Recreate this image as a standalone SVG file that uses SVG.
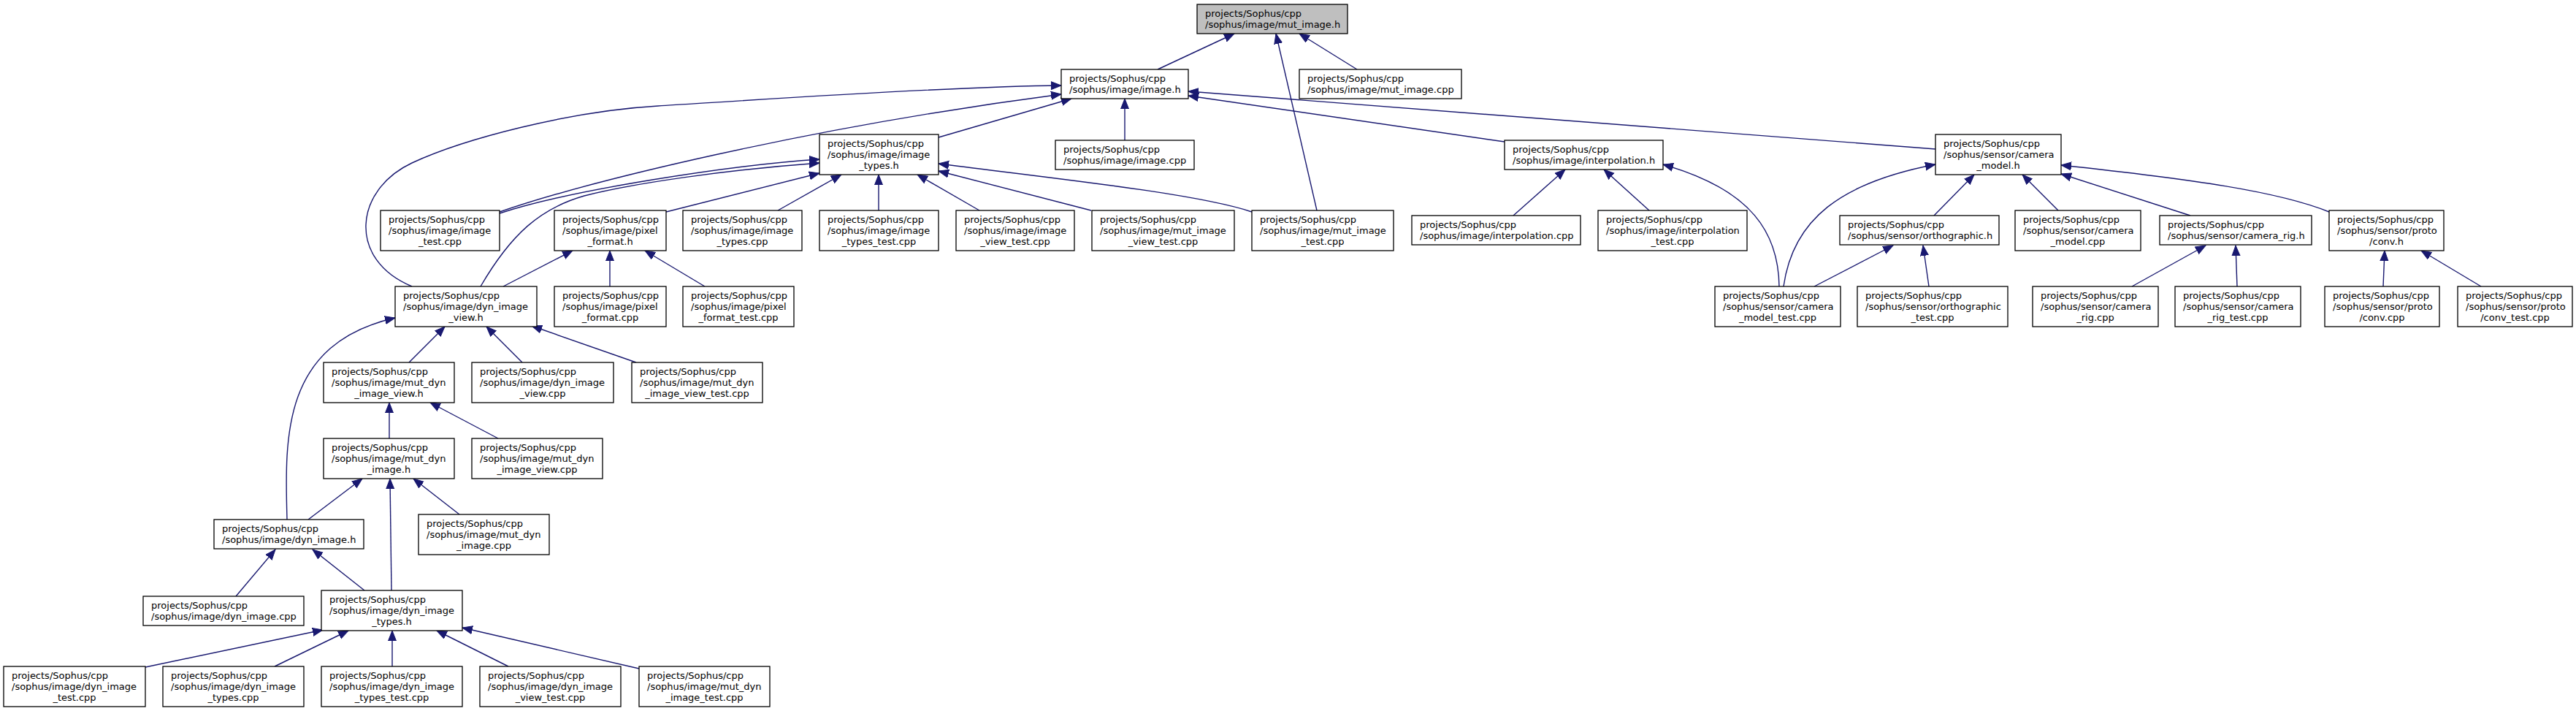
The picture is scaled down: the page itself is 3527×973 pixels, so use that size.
<svg xmlns="http://www.w3.org/2000/svg" width="3527" height="973" viewBox="0 0 3527 973">
<defs>
<marker id="ah" markerUnits="userSpaceOnUse" markerWidth="16" markerHeight="13" refX="14" refY="6" orient="auto" viewBox="0 0 16 13">
<path d="M0,0.5 L14,6 L0,11.5 z" fill="#191970" stroke="#191970" stroke-width="1"/>
</marker>
</defs>
<style>
.node rect{fill:#fff;stroke:#000;stroke-width:1.3}
.node.hl rect{fill:#bfbfbf}
text{font-family:"DejaVu Sans",sans-serif;font-size:13px;fill:#000}
text.c{text-anchor:middle}
#edges path{fill:none;stroke:#191970;stroke-width:1.4;marker-end:url(#ah)}
</style>
<rect width="3527" height="973" fill="#fff"/>
<g id="edges">
<path d="M1585,95 L1690,46"/>
<path d="M1858,95 L1779,46"/>
<path d="M1803,288 L1747,46"/>
<path d="M1285,188 L1467,135"/>
<path d="M1540,192 L1540,135"/>
<path d="M2060,194 L1627,131"/>
<path d="M2650,204 L1627,125"/>
<path d="M684,290 C800,250 1100,175 1453,129"/>
<path d="M684,292 C780,260 1000,226 1122,218"/>
<path d="M658,392 C700,320 740,285 800,268 C870,250 1000,232 1122,223"/>
<path d="M564,392 C475,355 485,260 564,223 C635,190 780,152 901,145 C1000,139 1300,118 1453,117"/>
<path d="M912,290 L1122,237"/>
<path d="M1065,288 L1152,239"/>
<path d="M1203,288 L1203,239"/>
<path d="M1341,288 L1256,239"/>
<path d="M1494,288 L1285,234"/>
<path d="M1714,290 C1640,265 1450,245 1285,224"/>
<path d="M835,392 L835,343"/>
<path d="M965,392 L883,343"/>
<path d="M689,392 L784,343"/>
<path d="M560,496 L609,447"/>
<path d="M715,496 L666,447"/>
<path d="M871,496 L728,446"/>
<path d="M393,711 C390,600 385,470 541,435"/>
<path d="M533,600 L533,551"/>
<path d="M682,600 L589,551"/>
<path d="M422,711 L496,655"/>
<path d="M536,808 L534,655"/>
<path d="M629,704 L566,655"/>
<path d="M323,816 L377,752"/>
<path d="M499,808 L428,752"/>
<path d="M199,913 L442,862"/>
<path d="M376,912 L477,863"/>
<path d="M537,912 L537,863"/>
<path d="M696,912 L598,863"/>
<path d="M875,915 L633,859"/>
<path d="M2072,295 L2143,232"/>
<path d="M2258,288 L2196,232"/>
<path d="M2436,392 C2435,320 2400,260 2277,225"/>
<path d="M2442,392 C2455,300 2520,250 2650,225"/>
<path d="M2648,295 L2703,239"/>
<path d="M2641,392 L2633,336"/>
<path d="M2484,392 L2592,336"/>
<path d="M2818,288 L2769,239"/>
<path d="M2999,295 L2822,238"/>
<path d="M3189,290 C3120,262 3000,245 2822,226"/>
<path d="M2919,392 L3020,336"/>
<path d="M3063,392 L3061,336"/>
<path d="M3263,392 L3265,343"/>
<path d="M3397,392 L3315,343"/>
</g>
<g id="n_mut_image_h" class="node hl"><rect x="1639" y="6" width="206" height="40"/><text x="1650" y="22.5">projects/Sophus/cpp</text><text x="1650" y="37.5">/sophus/image/mut_image.h</text></g>
<g id="n_image_h" class="node"><rect x="1453" y="95" width="174" height="40"/><text x="1464" y="111.5">projects/Sophus/cpp</text><text x="1464" y="126.5">/sophus/image/image.h</text></g>
<g id="n_mut_image_cpp" class="node"><rect x="1779" y="95" width="222" height="40"/><text x="1790" y="111.5">projects/Sophus/cpp</text><text x="1790" y="126.5">/sophus/image/mut_image.cpp</text></g>
<g id="n_image_types_h" class="node"><rect x="1122" y="184" width="163" height="55"/><text x="1133" y="200.5">projects/Sophus/cpp</text><text x="1133" y="215.5">/sophus/image/image</text><text class="c" x="1203.5" y="230.5">_types.h</text></g>
<g id="n_image_cpp" class="node"><rect x="1445" y="192" width="190" height="40"/><text x="1456" y="208.5">projects/Sophus/cpp</text><text x="1456" y="223.5">/sophus/image/image.cpp</text></g>
<g id="n_interpolation_h" class="node"><rect x="2060" y="192" width="217" height="40"/><text x="2071" y="208.5">projects/Sophus/cpp</text><text x="2071" y="223.5">/sophus/image/interpolation.h</text></g>
<g id="n_camera_model_h" class="node"><rect x="2650" y="184" width="172" height="55"/><text x="2661" y="200.5">projects/Sophus/cpp</text><text x="2661" y="215.5">/sophus/sensor/camera</text><text class="c" x="2736" y="230.5">_model.h</text></g>
<g id="n_image_test_cpp" class="node"><rect x="521" y="288" width="163" height="55"/><text x="532" y="304.5">projects/Sophus/cpp</text><text x="532" y="319.5">/sophus/image/image</text><text class="c" x="602.5" y="334.5">_test.cpp</text></g>
<g id="n_pixel_format_h" class="node"><rect x="759" y="288" width="153" height="55"/><text x="770" y="304.5">projects/Sophus/cpp</text><text x="770" y="319.5">/sophus/image/pixel</text><text class="c" x="835.5" y="334.5">_format.h</text></g>
<g id="n_image_types_cpp" class="node"><rect x="935" y="288" width="163" height="55"/><text x="946" y="304.5">projects/Sophus/cpp</text><text x="946" y="319.5">/sophus/image/image</text><text class="c" x="1016.5" y="334.5">_types.cpp</text></g>
<g id="n_image_types_test_cpp" class="node"><rect x="1122" y="288" width="163" height="55"/><text x="1133" y="304.5">projects/Sophus/cpp</text><text x="1133" y="319.5">/sophus/image/image</text><text class="c" x="1203.5" y="334.5">_types_test.cpp</text></g>
<g id="n_image_view_test_cpp" class="node"><rect x="1309" y="288" width="162" height="55"/><text x="1320" y="304.5">projects/Sophus/cpp</text><text x="1320" y="319.5">/sophus/image/image</text><text class="c" x="1390" y="334.5">_view_test.cpp</text></g>
<g id="n_mut_image_view_test_cpp" class="node"><rect x="1495" y="288" width="195" height="55"/><text x="1506" y="304.5">projects/Sophus/cpp</text><text x="1506" y="319.5">/sophus/image/mut_image</text><text class="c" x="1592.5" y="334.5">_view_test.cpp</text></g>
<g id="n_mut_image_test_cpp" class="node"><rect x="1714" y="288" width="194" height="55"/><text x="1725" y="304.5">projects/Sophus/cpp</text><text x="1725" y="319.5">/sophus/image/mut_image</text><text class="c" x="1811" y="334.5">_test.cpp</text></g>
<g id="n_interpolation_cpp" class="node"><rect x="1933" y="295" width="231" height="40"/><text x="1944" y="311.5">projects/Sophus/cpp</text><text x="1944" y="326.5">/sophus/image/interpolation.cpp</text></g>
<g id="n_interpolation_test_cpp" class="node"><rect x="2188" y="288" width="204" height="55"/><text x="2199" y="304.5">projects/Sophus/cpp</text><text x="2199" y="319.5">/sophus/image/interpolation</text><text class="c" x="2290" y="334.5">_test.cpp</text></g>
<g id="n_orthographic_h" class="node"><rect x="2519" y="295" width="218" height="40"/><text x="2530" y="311.5">projects/Sophus/cpp</text><text x="2530" y="326.5">/sophus/sensor/orthographic.h</text></g>
<g id="n_camera_model_cpp" class="node"><rect x="2759" y="288" width="172" height="55"/><text x="2770" y="304.5">projects/Sophus/cpp</text><text x="2770" y="319.5">/sophus/sensor/camera</text><text class="c" x="2845" y="334.5">_model.cpp</text></g>
<g id="n_camera_rig_h" class="node"><rect x="2957" y="295" width="208" height="40"/><text x="2968" y="311.5">projects/Sophus/cpp</text><text x="2968" y="326.5">/sophus/sensor/camera_rig.h</text></g>
<g id="n_proto_conv_h" class="node"><rect x="3189" y="288" width="157" height="55"/><text x="3200" y="304.5">projects/Sophus/cpp</text><text x="3200" y="319.5">/sophus/sensor/proto</text><text class="c" x="3267.5" y="334.5">/conv.h</text></g>
<g id="n_dyn_image_view_h" class="node"><rect x="541" y="392" width="194" height="55"/><text x="552" y="408.5">projects/Sophus/cpp</text><text x="552" y="423.5">/sophus/image/dyn_image</text><text class="c" x="638" y="438.5">_view.h</text></g>
<g id="n_pixel_format_cpp" class="node"><rect x="759" y="392" width="153" height="55"/><text x="770" y="408.5">projects/Sophus/cpp</text><text x="770" y="423.5">/sophus/image/pixel</text><text class="c" x="835.5" y="438.5">_format.cpp</text></g>
<g id="n_pixel_format_test_cpp" class="node"><rect x="935" y="392" width="152" height="55"/><text x="946" y="408.5">projects/Sophus/cpp</text><text x="946" y="423.5">/sophus/image/pixel</text><text class="c" x="1011" y="438.5">_format_test.cpp</text></g>
<g id="n_camera_model_test_cpp" class="node"><rect x="2348" y="392" width="172" height="55"/><text x="2359" y="408.5">projects/Sophus/cpp</text><text x="2359" y="423.5">/sophus/sensor/camera</text><text class="c" x="2434" y="438.5">_model_test.cpp</text></g>
<g id="n_orthographic_test_cpp" class="node"><rect x="2543" y="392" width="206" height="55"/><text x="2554" y="408.5">projects/Sophus/cpp</text><text x="2554" y="423.5">/sophus/sensor/orthographic</text><text class="c" x="2646" y="438.5">_test.cpp</text></g>
<g id="n_camera_rig_cpp" class="node"><rect x="2783" y="392" width="172" height="55"/><text x="2794" y="408.5">projects/Sophus/cpp</text><text x="2794" y="423.5">/sophus/sensor/camera</text><text class="c" x="2869" y="438.5">_rig.cpp</text></g>
<g id="n_camera_rig_test_cpp" class="node"><rect x="2978" y="392" width="172" height="55"/><text x="2989" y="408.5">projects/Sophus/cpp</text><text x="2989" y="423.5">/sophus/sensor/camera</text><text class="c" x="3064" y="438.5">_rig_test.cpp</text></g>
<g id="n_proto_conv_cpp" class="node"><rect x="3183" y="392" width="157" height="55"/><text x="3194" y="408.5">projects/Sophus/cpp</text><text x="3194" y="423.5">/sophus/sensor/proto</text><text class="c" x="3261.5" y="438.5">/conv.cpp</text></g>
<g id="n_proto_conv_test_cpp" class="node"><rect x="3365" y="392" width="157" height="55"/><text x="3376" y="408.5">projects/Sophus/cpp</text><text x="3376" y="423.5">/sophus/sensor/proto</text><text class="c" x="3443.5" y="438.5">/conv_test.cpp</text></g>
<g id="n_mut_dyn_image_view_h" class="node"><rect x="443" y="496" width="179" height="55"/><text x="454" y="512.5">projects/Sophus/cpp</text><text x="454" y="527.5">/sophus/image/mut_dyn</text><text class="c" x="532.5" y="542.5">_image_view.h</text></g>
<g id="n_dyn_image_view_cpp" class="node"><rect x="646" y="496" width="194" height="55"/><text x="657" y="512.5">projects/Sophus/cpp</text><text x="657" y="527.5">/sophus/image/dyn_image</text><text class="c" x="743" y="542.5">_view.cpp</text></g>
<g id="n_mut_dyn_image_view_test_cpp" class="node"><rect x="865" y="496" width="179" height="55"/><text x="876" y="512.5">projects/Sophus/cpp</text><text x="876" y="527.5">/sophus/image/mut_dyn</text><text class="c" x="954.5" y="542.5">_image_view_test.cpp</text></g>
<g id="n_mut_dyn_image_h" class="node"><rect x="443" y="600" width="179" height="55"/><text x="454" y="616.5">projects/Sophus/cpp</text><text x="454" y="631.5">/sophus/image/mut_dyn</text><text class="c" x="532.5" y="646.5">_image.h</text></g>
<g id="n_mut_dyn_image_view_cpp" class="node"><rect x="646" y="600" width="179" height="55"/><text x="657" y="616.5">projects/Sophus/cpp</text><text x="657" y="631.5">/sophus/image/mut_dyn</text><text class="c" x="735.5" y="646.5">_image_view.cpp</text></g>
<g id="n_dyn_image_h" class="node"><rect x="293" y="711" width="205" height="40"/><text x="304" y="727.5">projects/Sophus/cpp</text><text x="304" y="742.5">/sophus/image/dyn_image.h</text></g>
<g id="n_mut_dyn_image_cpp" class="node"><rect x="573" y="704" width="179" height="55"/><text x="584" y="720.5">projects/Sophus/cpp</text><text x="584" y="735.5">/sophus/image/mut_dyn</text><text class="c" x="662.5" y="750.5">_image.cpp</text></g>
<g id="n_dyn_image_cpp" class="node"><rect x="196" y="816" width="220" height="40"/><text x="207" y="832.5">projects/Sophus/cpp</text><text x="207" y="847.5">/sophus/image/dyn_image.cpp</text></g>
<g id="n_dyn_image_types_h" class="node"><rect x="440" y="808" width="193" height="55"/><text x="451" y="824.5">projects/Sophus/cpp</text><text x="451" y="839.5">/sophus/image/dyn_image</text><text class="c" x="536.5" y="854.5">_types.h</text></g>
<g id="n_dyn_image_test_cpp" class="node"><rect x="5" y="912" width="194" height="55"/><text x="16" y="928.5">projects/Sophus/cpp</text><text x="16" y="943.5">/sophus/image/dyn_image</text><text class="c" x="102" y="958.5">_test.cpp</text></g>
<g id="n_dyn_image_types_cpp" class="node"><rect x="223" y="912" width="193" height="55"/><text x="234" y="928.5">projects/Sophus/cpp</text><text x="234" y="943.5">/sophus/image/dyn_image</text><text class="c" x="319.5" y="958.5">_types.cpp</text></g>
<g id="n_dyn_image_types_test_cpp" class="node"><rect x="440" y="912" width="193" height="55"/><text x="451" y="928.5">projects/Sophus/cpp</text><text x="451" y="943.5">/sophus/image/dyn_image</text><text class="c" x="536.5" y="958.5">_types_test.cpp</text></g>
<g id="n_dyn_image_view_test_cpp" class="node"><rect x="657" y="912" width="193" height="55"/><text x="668" y="928.5">projects/Sophus/cpp</text><text x="668" y="943.5">/sophus/image/dyn_image</text><text class="c" x="753.5" y="958.5">_view_test.cpp</text></g>
<g id="n_mut_dyn_image_test_cpp" class="node"><rect x="875" y="912" width="179" height="55"/><text x="886" y="928.5">projects/Sophus/cpp</text><text x="886" y="943.5">/sophus/image/mut_dyn</text><text class="c" x="964.5" y="958.5">_image_test.cpp</text></g>
</svg>
